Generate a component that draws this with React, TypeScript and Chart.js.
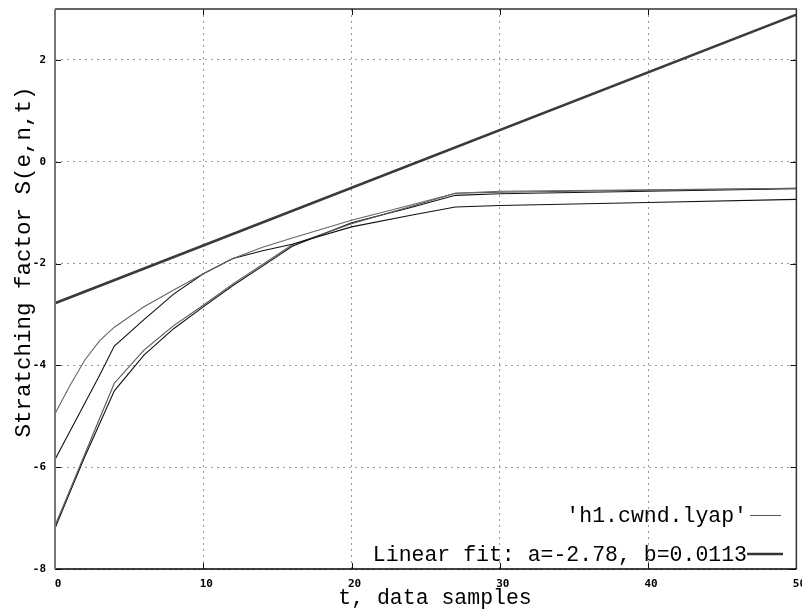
import React, { useEffect, useRef } from "react";
import { Chart, registerables } from "chart.js";

Chart.register(...registerables);

// sample times (t, data samples)
const T = [0, 1, 2, 3, 4, 6, 8, 10, 12, 14, 16, 20, 24, 27, 30, 40, 50];
// 'h1.cwnd.lyap' curves (several blocks of the same file)
const lyapA = [-4.95, -4.4, -3.9, -3.52, -3.25, -2.85, -2.52, -2.2, -1.9, -1.68, -1.5, -1.15, -0.85, -0.62, -0.58, -0.55, -0.52];
const lyapB = [-5.85, -5.3, -4.75, -4.2, -3.62, -3.1, -2.6, -2.2, -1.9, -1.75, -1.62, -1.28, -1.05, -0.89, -0.86, -0.8, -0.74];
const lyapC = [-7.15, -6.45, -5.75, -5.05, -4.35, -3.7, -3.22, -2.82, -2.4, -2.02, -1.63, -1.22, -0.88, -0.62, -0.6, -0.56, -0.52];
const lyapD = [-7.2, -6.5, -5.8, -5.15, -4.5, -3.8, -3.28, -2.85, -2.43, -2.05, -1.66, -1.2, -0.9, -0.66, -0.63, -0.58, -0.53];
// linear fit
const fitT = [0, 50];
const fitS = [-2.78, 2.89];

const xTicks = [0, 10, 20, 30, 40, 50];
const yTicks = [-8, -6, -4, -2, 0, 2];
const xTitle = "t, data samples";
const yTitle = "Stratching factor S(e,n,t)";
const legendData = "'h1.cwnd.lyap'";
const legendFit = "Linear fit: a=-2.78, b=0.0113";

const TITLE_FONT = '21.5px "Liberation Mono", "DejaVu Sans Mono", monospace';

const toPts = (xs: number[], ys: number[]) => xs.map((x, i) => ({ x, y: ys[i] }));

const deco = {
  id: "deco",
  afterDraw(chart: any) {
    const { ctx, chartArea } = chart;
    const { left, right, top, bottom } = chartArea;
    const xs = chart.scales.x;
    const ys = chart.scales.y;
    ctx.save();
    // inward tick marks
    ctx.strokeStyle = "#111";
    ctx.lineWidth = 1;
    const tl = 6;
    xTicks.forEach((v) => {
      const px = Math.round(xs.getPixelForValue(v)) + 0.5;
      ctx.beginPath();
      ctx.moveTo(px, bottom);
      ctx.lineTo(px, bottom - tl);
      ctx.moveTo(px, top);
      ctx.lineTo(px, top + tl);
      ctx.stroke();
    });
    yTicks.forEach((v) => {
      const py = Math.round(ys.getPixelForValue(v)) + 0.5;
      ctx.beginPath();
      ctx.moveTo(left, py);
      ctx.lineTo(left + tl, py);
      ctx.moveTo(right, py);
      ctx.lineTo(right - tl, py);
      ctx.stroke();
    });
    // frame
    ctx.lineWidth = 1.5;
    ctx.strokeStyle = "#333";
    ctx.beginPath();
    ctx.moveTo(left, top);
    ctx.lineTo(right, top);
    ctx.lineTo(right, bottom);
    ctx.stroke();
    ctx.strokeStyle = "#000";
    ctx.beginPath();
    ctx.moveTo(left, bottom);
    ctx.lineTo(right, bottom);
    ctx.stroke();
    ctx.strokeStyle = "#777";
    ctx.lineWidth = 2;
    ctx.beginPath();
    ctx.moveTo(left, top);
    ctx.lineTo(left, bottom);
    ctx.stroke();

    // axis titles
    ctx.fillStyle = "#000";
    ctx.font = TITLE_FONT;
    ctx.textAlign = "center";
    ctx.textBaseline = "middle";
    ctx.fillText(xTitle, 435, 598);
    ctx.save();
    ctx.translate(24, 262);
    ctx.rotate(-Math.PI / 2);
    ctx.font = '22.5px "Liberation Mono", "DejaVu Sans Mono", monospace';
    ctx.fillText(yTitle, 0, 0);
    ctx.restore();

    // legend
    ctx.textAlign = "right";
    ctx.fillText(legendData, 747, 516);
    ctx.fillText(legendFit, 747, 555);
    ctx.strokeStyle = "#555";
    ctx.lineWidth = 1;
    ctx.beginPath();
    ctx.moveTo(750, 515.5);
    ctx.lineTo(781, 515.5);
    ctx.stroke();
    ctx.strokeStyle = "#333";
    ctx.lineWidth = 2.5;
    ctx.beginPath();
    ctx.moveTo(747, 554);
    ctx.lineTo(783, 554);
    ctx.stroke();
    ctx.restore();
  },
};

export default function App() {
  const ref = useRef<HTMLCanvasElement>(null);
  useEffect(() => {
    if (!ref.current) return;
    const thin = (data: number[], color: string) => ({
      data: toPts(T, data),
      borderColor: color,
      borderWidth: 1.1,
      pointRadius: 0,
      tension: 0,
      fill: false,
    });
    const chart = new Chart(ref.current, {
      type: "line",
      data: {
        datasets: [
          thin(lyapA, "#666666"),
          thin(lyapB, "#111111"),
          thin(lyapC, "#555555"),
          thin(lyapD, "#111111"),
          {
            data: toPts(fitT, fitS),
            borderColor: "#3a3a3a",
            borderWidth: 2.6,
            pointRadius: 0,
            tension: 0,
            fill: false,
          },
        ],
      },
      options: {
        animation: false,
        responsive: true,
        maintainAspectRatio: false,
        layout: { padding: { top: 9, right: 0, left: 0, bottom: 0 } },
        plugins: { legend: { display: false }, tooltip: { enabled: false } },
        scales: {
          x: {
            type: "linear",
            min: 0,
            max: 50,
            afterFit: (s: any) => {
              s.height = 41;
            },
            afterBuildTicks: (s: any) => {
              s.ticks = xTicks.map((v) => ({ value: v }));
            },
            ticks: {
              padding: 9,
              labelOffset: 3,
              color: "#000",
              font: { family: '"DejaVu Sans Mono", monospace', size: 11, weight: "bold" },
              maxRotation: 0,
              autoSkip: false,
            },
            grid: { color: "#9a9a9a", lineWidth: 1, drawTicks: false },
            border: { display: false, dash: [2, 4] },
          },
          y: {
            type: "linear",
            min: -8,
            max: 3,
            afterFit: (s: any) => {
              s.width = 55;
              s.paddingTop = 0;
              s.paddingBottom = 0;
            },
            afterBuildTicks: (s: any) => {
              s.ticks = yTicks.map((v) => ({ value: v }));
            },
            ticks: {
              padding: 9,
              color: "#000",
              font: { family: '"DejaVu Sans Mono", monospace', size: 11, weight: "bold" },
              autoSkip: false,
            },
            grid: { color: "#9a9a9a", lineWidth: 1, drawTicks: false },
            border: { display: false, dash: [2, 4] },
          },
        },
      },
      plugins: [deco],
    } as any);
    return () => chart.destroy();
  }, []);
  return (
    <div style={{ position: "absolute", left: 0, top: 0, width: 802, height: 610, overflow: "hidden", background: "#fff" }}>
      <div style={{ position: "relative", width: 812, height: 610 }}>
        <canvas ref={ref} />
      </div>
    </div>
  );
}
